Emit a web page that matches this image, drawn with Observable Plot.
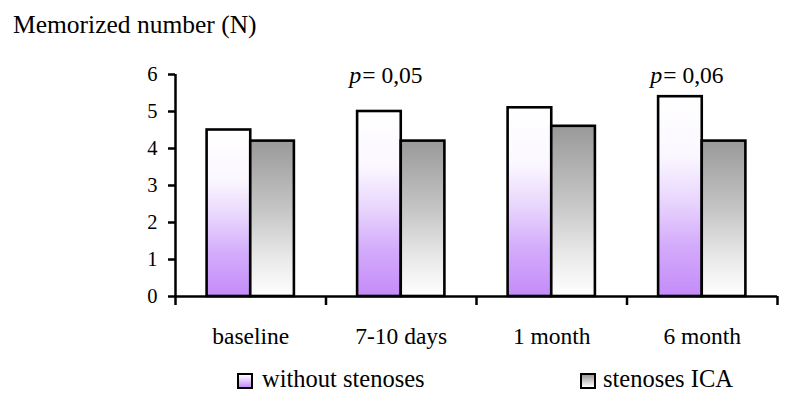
<!DOCTYPE html>
<html>
<head>
<meta charset="utf-8">
<script src="https://cdn.jsdelivr.net/npm/d3@7"></script>
<script src="https://cdn.jsdelivr.net/npm/@observablehq/plot@0.6"></script>
<style>
  html, body { margin: 0; padding: 0; background: #fff; }
  body { width: 793px; height: 403px; position: relative; overflow: hidden; font-family: "Liberation Serif", "Times New Roman", serif; color: #000; }
  #title { position: absolute; left: 13px; top: 12px; font-size: 25.5px; line-height: 1; white-space: nowrap; }
  #chart { position: absolute; left: 0; top: 50px; }
  .lg-sw { position: absolute; width: 12px; height: 12px; border: 2px solid #000; box-sizing: content-box; }
  .lg-tx { position: absolute; font-size: 24.5px; line-height: 1; white-space: nowrap; }
</style>
</head>
<body>
<div id="title">Memorized number (N)</div>
<div id="chart"></div>
<div class="lg-sw" style="left:237px; top:373px; background: linear-gradient(#ffffff, #c48bf9);"></div>
<div class="lg-tx" id="lg1" style="left:262px; top:367px;"></div>
<div class="lg-sw" style="left:580px; top:373px; background: linear-gradient(#9a9a9a, #ffffff);"></div>
<div class="lg-tx" id="lg2" style="left:603px; top:367px;"></div>
<script>
// ---- data ----
const categories = ["baseline", "7-10 days", "1 month", "6 month"];
const seriesNames = ["without stenoses", "stenoses ICA"];
const withoutStenoses = [4.5, 5.0, 5.1, 5.4];
const stenosesICA = [4.2, 4.2, 4.6, 4.2];
const yTicks = [0, 1, 2, 3, 4, 5, 6];
const pCategories = ["7-10 days", "6 month"];
const pValues = ["0,05", "0,06"];

document.getElementById("lg1").textContent = seriesNames[0];
document.getElementById("lg2").textContent = seriesNames[1];

// build tidy rows
const rows = [];
categories.forEach((c, i) => {
  rows.push({cat: c, idx: i, series: seriesNames[0], value: withoutStenoses[i]});
  rows.push({cat: c, idx: i, series: seriesNames[1], value: stenosesICA[i]});
});
const pRows = pCategories.map((c, k) => ({idx: categories.indexOf(c), text: pValues[k]}));
const catRows = categories.map((c, i) => ({cat: c, idx: i}));
const boundaries = d3.range(categories.length + 1);

const barW = 0.29;
const pOffset = -0.265;

const plot = Plot.plot({
  width: 793,
  height: 305,
  marginTop: 24,
  marginBottom: 59,
  marginLeft: 175,
  marginRight: 16,
  style: {fontFamily: "Liberation Serif, Times New Roman, serif", fontSize: "20px", background: "transparent", color: "#000"},
  x: {type: "linear", domain: [0, categories.length], axis: null},
  y: {domain: [0, 6], axis: null},
  marks: [
    Plot.rectY(rows, {
      x1: d => d.idx + 0.5 + (d.series === seriesNames[0] ? -barW : 0),
      x2: d => d.idx + 0.5 + (d.series === seriesNames[0] ? 0 : barW),
      y1: 0,
      y2: "value",
      fill: d => d.series === seriesNames[0] ? "url(#gradA)" : "url(#gradB)",
      stroke: "#000",
      strokeWidth: 2.6
    }),
    Plot.ruleX([0], {stroke: "#000", strokeWidth: 2.5}),
    Plot.ruleY([0], {stroke: "#000", strokeWidth: 2.5}),
    Plot.axisY({ticks: yTicks, tickSize: 7, tickPadding: 11, strokeWidth: 2.5, fontSize: 20.5, label: null, tickFormat: d => String(d)}),
    Plot.axisX({ticks: boundaries, tickSize: 9, strokeWidth: 2.5, tickFormat: () => "", label: null}),
    Plot.text(catRows, {x: d => d.idx + 0.5, y: 0, text: "cat", dy: 40, fontSize: 23.5, fill: "#000"}),
    Plot.text(pRows, {x: d => d.idx + 0.5 + pOffset, y: 6, text: () => "p", textAnchor: "end", dy: 1, fontSize: 24, fontStyle: "italic", fill: "#000"}),
    Plot.text(pRows, {x: d => d.idx + 0.5 + pOffset, y: 6, text: d => "= " + d.text, textAnchor: "start", dx: 1, dy: 1, fontSize: 23.5, fill: "#000"})
  ]
});

d3.select(plot).insert("defs", ":first-child").html(`
  <linearGradient id="gradA" x1="0" y1="0" x2="0" y2="1">
    <stop offset="0%" stop-color="#ffffff"/>
    <stop offset="30%" stop-color="#fbf7ff"/>
    <stop offset="52%" stop-color="#e9d6fd"/>
    <stop offset="75%" stop-color="#d3abfb"/>
    <stop offset="100%" stop-color="#c48bf9"/>
  </linearGradient>
  <linearGradient id="gradB" x1="0" y1="0" x2="0" y2="1">
    <stop offset="0%" stop-color="#999999"/>
    <stop offset="45%" stop-color="#c6c6c6"/>
    <stop offset="75%" stop-color="#e8e8e8"/>
    <stop offset="100%" stop-color="#ffffff"/>
  </linearGradient>
`);

document.getElementById("chart").appendChild(plot);
</script>
</body>
</html>
